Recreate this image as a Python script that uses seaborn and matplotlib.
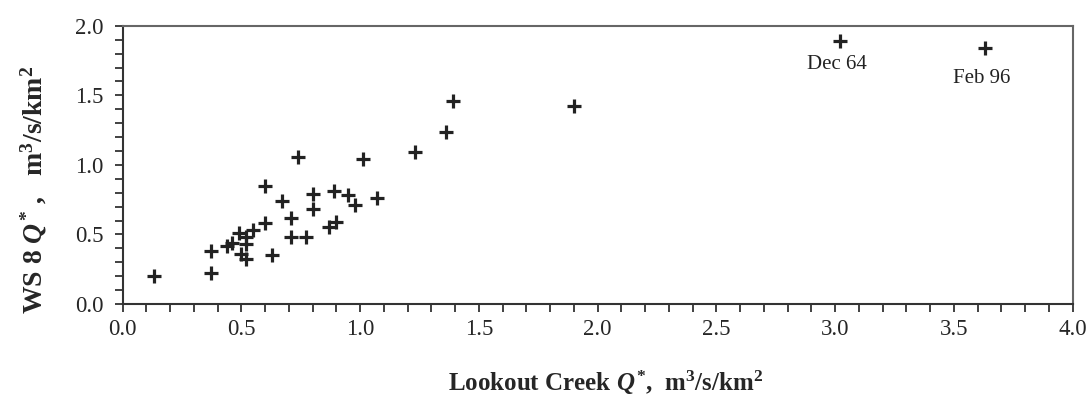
import matplotlib
matplotlib.use("Agg")
import matplotlib.pyplot as plt
import seaborn as sns
import pandas as pd
from matplotlib.ticker import MultipleLocator

# Data
lookout_q = [0.13, 0.37, 0.37, 0.44, 0.46, 0.49, 0.52, 0.55, 0.52, 0.50, 0.52,
             0.60, 0.60, 0.63, 0.67, 0.71, 0.71, 0.77, 0.74, 0.80, 0.80, 0.87,
             0.90, 0.89, 0.95, 0.98, 1.01, 1.07, 1.23, 1.36, 1.39, 1.90, 3.02, 3.63]
ws8_q = [0.20, 0.38, 0.22, 0.42, 0.44, 0.51, 0.48, 0.53, 0.43, 0.36, 0.32,
         0.58, 0.85, 0.35, 0.74, 0.62, 0.48, 0.48, 1.06, 0.79, 0.68, 0.55,
         0.59, 0.81, 0.78, 0.71, 1.04, 0.76, 1.09, 1.24, 1.46, 1.42, 1.89, 1.84]
event_labels = ["Dec 64", "Feb 96"]
event_x = [3.02, 3.63]
event_y = [1.89, 1.84]

sns.set_style("ticks")
plt.rcParams['font.family'] = ['Liberation Serif', 'DejaVu Serif']
plt.rcParams['mathtext.fontset'] = 'custom'
plt.rcParams['mathtext.rm'] = 'Liberation Serif'
plt.rcParams['mathtext.it'] = 'Liberation Serif:italic'
plt.rcParams['mathtext.bf'] = 'Liberation Serif:bold'
plt.rcParams['mathtext.bfit'] = 'Liberation Serif:italic:bold'

df = pd.DataFrame({"x": lookout_q, "y": ws8_q})

fig = plt.figure(figsize=(10.92, 4.03), dpi=100)
ax = fig.add_axes([0.1124, 0.2457, 0.9823 - 0.1124, 0.936 - 0.2457])

sns.scatterplot(data=df, x="x", y="y", marker="+", s=110, color="#222222",
                linewidth=2.3, ax=ax, legend=False)

label_offsets = [-17, -22]
for lab, xv, yv, off in zip(event_labels, event_x, event_y, label_offsets):
    ax.annotate(lab, (xv, yv), xytext=(-2, off), textcoords="offset points",
                ha="center", va="center", fontsize=15, color="#222222")

ax.set_xlim(0, 4.0)
ax.set_ylim(0, 2.0)
ax.xaxis.set_major_locator(MultipleLocator(0.5))
ax.xaxis.set_minor_locator(MultipleLocator(0.1))
ax.yaxis.set_major_locator(MultipleLocator(0.5))
ax.yaxis.set_minor_locator(MultipleLocator(0.1))
ax.xaxis.set_major_formatter(matplotlib.ticker.FormatStrFormatter('%.1f'))
ax.yaxis.set_major_formatter(matplotlib.ticker.FormatStrFormatter('%.1f'))

for sp in ax.spines.values():
    sp.set_color("#333333")
    sp.set_linewidth(1.5)
ax.spines['top'].set_color('#666666')
ax.spines['right'].set_color('#666666')

ax.tick_params(axis='both', which='both', direction='out', color='#333333', width=1.3)
ax.tick_params(axis='x', which='both', length=6, pad=5, labelsize=16.5)
ax.tick_params(axis='y', which='both', length=6, pad=8, labelsize=16.5)

ax.set_xlabel(r"Lookout Creek $\mathbfit{Q}^{\,\mathbf{*}}$,  m$^{\mathbf{3}}$/s/km$^{\mathbf{2}}$",
              fontsize=18, fontweight='bold')
ax.set_ylabel(r"WS 8 $\mathbfit{Q}^{\,\mathbf{*}}$ ,   m$^{\mathbf{3}}$/s/km$^{\mathbf{2}}$",
              fontsize=20, fontweight='bold')
ax.xaxis.set_label_coords(0.508, -0.284)
ax.yaxis.set_label_coords(-0.094, 0.41)
ax.xaxis.label.set_va('center')
ax.yaxis.label.set_va('center')

fig.savefig("out.png", dpi=100, facecolor="white")
